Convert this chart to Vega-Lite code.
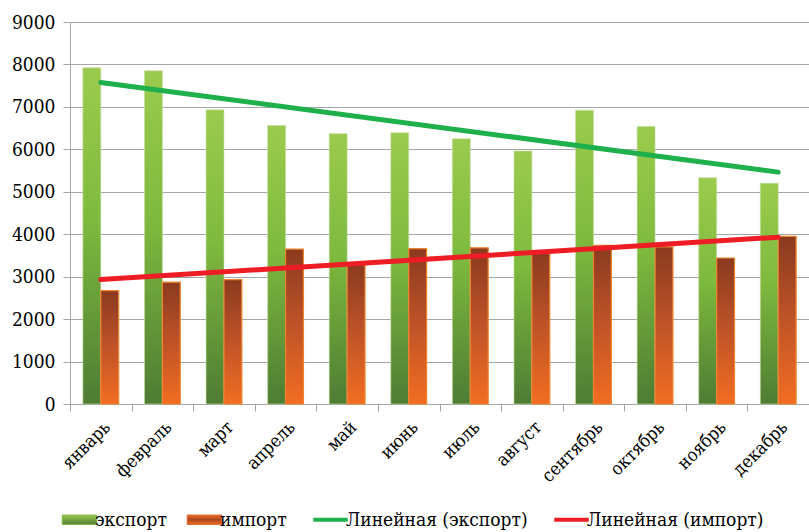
{
  "$schema": "https://vega.github.io/schema/vega-lite/v6.json",
  "width": 739,
  "height": 382,
  "autosize": {"type": "none"},
  "padding": {"left": 70, "top": 22, "right": 0, "bottom": 128},
  "background": "white",
  "config": {
    "view": {"stroke": null},
    "font": "DejaVu Serif Condensed, DejaVu Serif",
    "axis": {"labelFont": "DejaVu Serif Condensed, DejaVu Serif", "labelColor": "#000000", "labelFontSize": 19},
    "legend": {"labelFont": "DejaVu Serif Condensed, DejaVu Serif"}
  },
  "datasets": {
    "bars": [
      {"month": "январь", "series": "экспорт", "value": 7920},
      {"month": "февраль", "series": "экспорт", "value": 7850},
      {"month": "март", "series": "экспорт", "value": 6930},
      {"month": "апрель", "series": "экспорт", "value": 6560},
      {"month": "май", "series": "экспорт", "value": 6370},
      {"month": "июнь", "series": "экспорт", "value": 6390},
      {"month": "июль", "series": "экспорт", "value": 6250},
      {"month": "август", "series": "экспорт", "value": 5960},
      {"month": "сентябрь", "series": "экспорт", "value": 6920},
      {"month": "октябрь", "series": "экспорт", "value": 6540},
      {"month": "ноябрь", "series": "экспорт", "value": 5330},
      {"month": "декабрь", "series": "экспорт", "value": 5200},
      {"month": "январь", "series": "импорт", "value": 2670},
      {"month": "февраль", "series": "импорт", "value": 2870},
      {"month": "март", "series": "импорт", "value": 2930},
      {"month": "апрель", "series": "импорт", "value": 3650},
      {"month": "май", "series": "импорт", "value": 3300},
      {"month": "июнь", "series": "импорт", "value": 3660},
      {"month": "июль", "series": "импорт", "value": 3680},
      {"month": "август", "series": "импорт", "value": 3590},
      {"month": "сентябрь", "series": "импорт", "value": 3740},
      {"month": "октябрь", "series": "импорт", "value": 3700},
      {"month": "ноябрь", "series": "импорт", "value": 3440},
      {"month": "декабрь", "series": "импорт", "value": 3950}
    ],
    "trend": [
      {"month": "январь", "series": "Линейная (экспорт)", "value": 7574},
      {"month": "декабрь", "series": "Линейная (экспорт)", "value": 5463},
      {"month": "январь", "series": "Линейная (импорт)", "value": 2933},
      {"month": "декабрь", "series": "Линейная (импорт)", "value": 3930}
    ]
  },
  "encoding": {
    "x": {
      "field": "month",
      "type": "nominal",
      "scale": {
        "domain": ["январь", "февраль", "март", "апрель", "май", "июнь", "июль", "август", "сентябрь", "октябрь", "ноябрь", "декабрь"],
        "paddingInner": 0,
        "paddingOuter": 0
      },
      "axis": {
        "title": null,
        "labelAngle": -45,
        "labelFontSize": 18,
        "tickBand": "extent",
        "domainColor": "#A6A6A6",
        "tickColor": "#A6A6A6",
        "tickSize": 7,
        "labelPadding": 7,
        "grid": false
      }
    },
    "y": {
      "field": "value",
      "type": "quantitative",
      "scale": {"domain": [0, 9000], "nice": false},
      "axis": {
        "title": null,
        "format": "d",
        "values": [0, 1000, 2000, 3000, 4000, 5000, 6000, 7000, 8000, 9000],
        "gridColor": "#A6A6A6",
        "gridWidth": 1,
        "domainColor": "#A6A6A6",
        "tickColor": "#A6A6A6",
        "tickSize": 7,
        "labelPadding": 8
      }
    }
  },
  "layer": [
    {
      "data": {"name": "bars"},
      "transform": [{"filter": "datum.series === 'экспорт'"}],
      "mark": {
        "type": "bar",
        "stroke": "#C3DD9C",
        "strokeWidth": 0.6,
        "fill": {
          "gradient": "linear", "x1": 0, "y1": 0, "x2": 0, "y2": 1,
          "stops": [
            {"offset": 0, "color": "#9BCB4E"},
            {"offset": 0.45, "color": "#7EBA3E"},
            {"offset": 1, "color": "#4E7C34"}
          ]
        }
      },
      "encoding": {
        "xOffset": {"field": "series", "type": "nominal", "scale": {"domain": ["экспорт", "импорт"], "paddingInner": 0, "paddingOuter": 0.72}}
      }
    },
    {
      "data": {"name": "bars"},
      "transform": [{"filter": "datum.series === 'импорт'"}],
      "mark": {
        "type": "bar",
        "stroke": "#F0842E",
        "strokeWidth": 1.2,
        "fill": {
          "gradient": "linear", "x1": 0, "y1": 0, "x2": 0, "y2": 1,
          "stops": [
            {"offset": 0, "color": "#8A3A1F"},
            {"offset": 0.45, "color": "#BB5128"},
            {"offset": 1, "color": "#F26D22"}
          ]
        }
      },
      "encoding": {
        "xOffset": {"field": "series", "type": "nominal", "scale": {"domain": ["экспорт", "импорт"], "paddingInner": 0, "paddingOuter": 0.72}}
      }
    },
    {
      "data": {"name": "trend"},
      "mark": {"type": "line", "strokeWidth": 5, "strokeCap": "round"},
      "encoding": {
        "color": {
          "field": "series",
          "type": "nominal",
          "scale": {
            "domain": ["экспорт", "импорт", "Линейная (экспорт)", "Линейная (импорт)"],
            "range": ["#7EBA3E", "#D9622A", "#1DB04B", "#EE1C25"]
          },
          "legend": {
            "title": null,
            "orient": "bottom",
            "direction": "horizontal",
            "offset": 24,
            "labelFontSize": 19,
            "labelColor": "#000000",
            "labelLimit": 300,
            "labelOffset": 6,
            "columnPadding": 18,
            "symbolSize": 1190,
            "symbolStrokeWidth": 4,
            "encode": {
              "symbols": {
                "update": {
                  "shape": {"signal": "(datum.value === 'экспорт' || datum.value === 'импорт') ? 'M-1,-0.27H1V0.27H-1Z' : 'stroke'"},
                  "fill": {"signal": "datum.value === 'экспорт' ? {gradient: 'linear', x1: 0, y1: 0, x2: 0, y2: 1, stops: [{offset: 0, color: '#9BCB4E'}, {offset: 1, color: '#4E7C34'}]} : datum.value === 'импорт' ? {gradient: 'linear', x1: 0, y1: 0, x2: 0, y2: 1, stops: [{offset: 0, color: '#F26D22'}, {offset: 0.5, color: '#A8451F'}, {offset: 1, color: '#F26D22'}]} : 'transparent'"},
                  "stroke": {"signal": "datum.value === 'экспорт' ? '#C3DD9C' : datum.value === 'импорт' ? '#F0842E' : datum.value === 'Линейная (экспорт)' ? '#1DB04B' : '#EE1C25'"},
                  "strokeWidth": {"signal": "(datum.value === 'экспорт' || datum.value === 'импорт') ? 1 : 4"}
                }
              }
            }
          }
        }
      }
    }
  ]
}
